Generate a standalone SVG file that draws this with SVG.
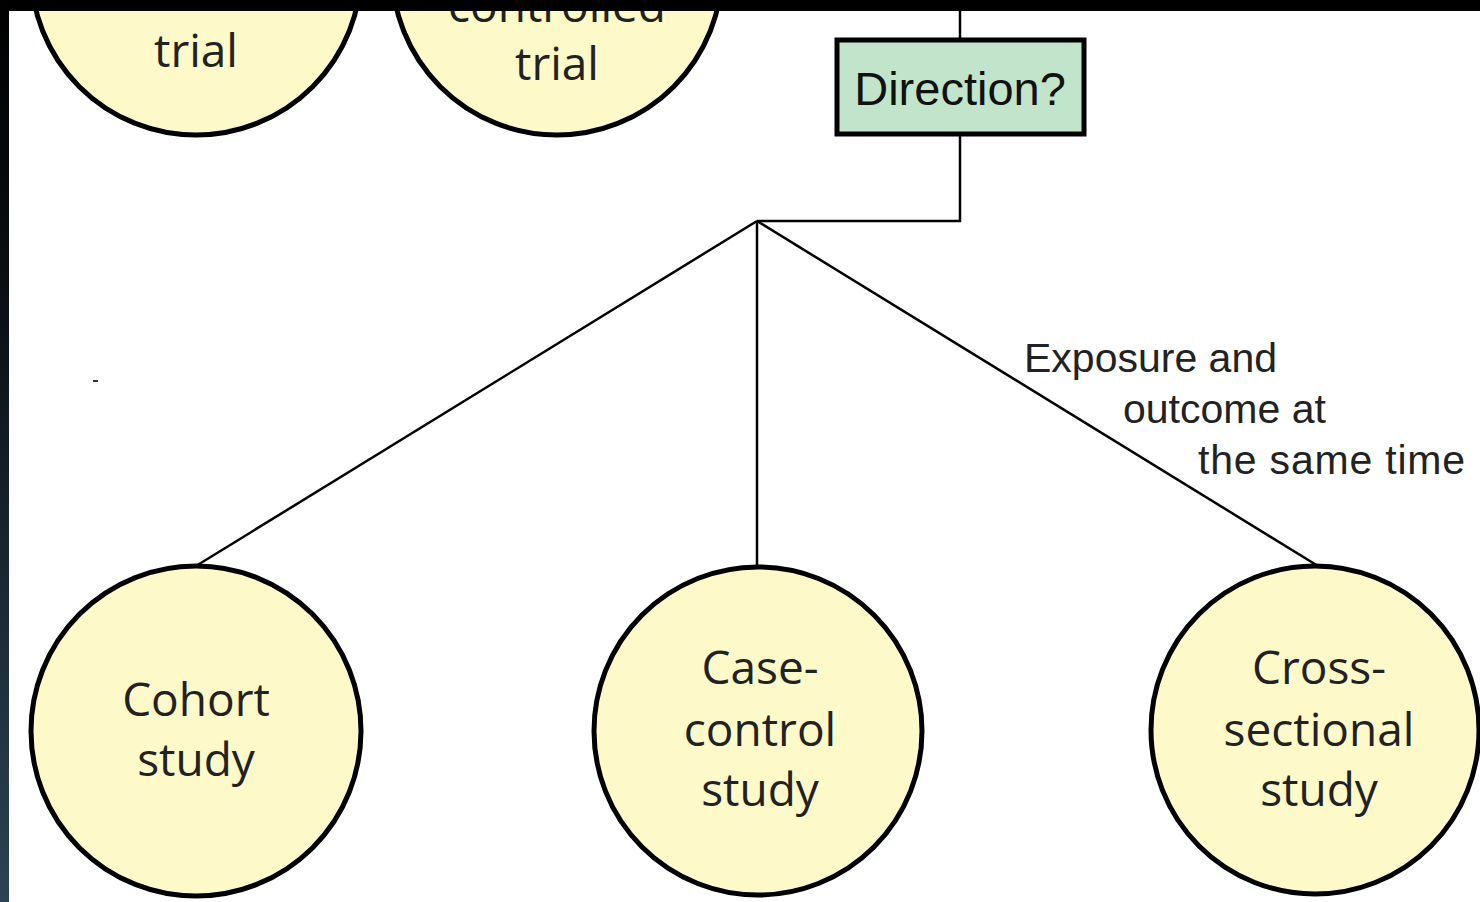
<svg xmlns="http://www.w3.org/2000/svg" width="1480" height="902" viewBox="0 0 1480 902">
  <defs>
    <linearGradient id="sideBar" x1="0" y1="0" x2="0" y2="1">
      <stop offset="0" stop-color="#000000"/>
      <stop offset="0.35" stop-color="#0b1116"/>
      <stop offset="1" stop-color="#2b4354"/>
    </linearGradient>
  </defs>
  <style>
    .circle { fill: #fef9c9; stroke: #000; stroke-width: 5; }
    .box { fill: #c2e4cb; stroke: #000; stroke-width: 5; }
    .node-text { font-family: "Open Sans", "Liberation Sans", sans-serif; font-size: 46px; fill: #222; text-anchor: middle; }
    .box-text { font-family: "Liberation Sans", Arial, sans-serif; font-size: 47px; fill: #111; text-anchor: middle; }
    .label { font-family: "Liberation Sans", Arial, sans-serif; font-size: 41px; fill: #222; }
    .link { fill: none; stroke: #000; stroke-width: 2.5; }
  </style>

  <rect x="0" y="0" width="1480" height="902" fill="#ffffff"/>

  <!-- connectors -->
  <g id="connectors">
    <path class="link" d="M960 11 V221 H757"/>
    <line class="link" x1="757" y1="221" x2="196" y2="566"/>
    <line class="link" x1="757" y1="221" x2="757" y2="566"/>
    <line class="link" x1="757" y1="221" x2="1318" y2="566"/>
  </g>

  <g id="node-trial-left">
    <circle class="circle" cx="196" cy="-30" r="165"/>
    <text class="node-text" x="196" y="67">trial</text>
  </g>

  <g id="node-controlled-trial">
    <circle class="circle" cx="557" cy="-30" r="165"/>
    <text class="node-text" x="557" y="22">controlled</text>
    <text class="node-text" x="557" y="80">trial</text>
  </g>

  <g id="node-direction">
    <rect class="box" x="837" y="40" width="247" height="94"/>
    <text class="box-text" x="960" y="105">Direction?</text>
  </g>

  <g id="edge-label">
    <text class="label" x="1024" y="372">Exposure and</text>
    <text class="label" x="1123" y="423">outcome at</text>
    <text class="label" x="1198" y="474" letter-spacing="0.8">the same time</text>
  </g>

  <g id="node-cohort">
    <circle class="circle" cx="196" cy="731" r="165"/>
    <text class="node-text" x="196" y="716">Cohort</text>
    <text class="node-text" x="196" y="776">study</text>
  </g>

  <g id="node-case-control">
    <circle class="circle" cx="758" cy="731" r="164"/>
    <text class="node-text" x="760" y="684">Case-</text>
    <text class="node-text" x="760" y="746">control</text>
    <text class="node-text" x="760" y="806">study</text>
  </g>

  <g id="node-cross-sectional">
    <circle class="circle" cx="1315" cy="730" r="164"/>
    <text class="node-text" x="1319" y="684">Cross-</text>
    <text class="node-text" x="1319" y="746">sectional</text>
    <text class="node-text" x="1319" y="806">study</text>
  </g>

  <!-- stray mark on the page -->
  <rect x="93" y="380" width="5" height="2" fill="#333"/>

  <!-- frame edges -->
  <rect x="0" y="0" width="1480" height="11" fill="#000"/>
  <rect x="0" y="0" width="9" height="902" fill="url(#sideBar)"/>
</svg>
